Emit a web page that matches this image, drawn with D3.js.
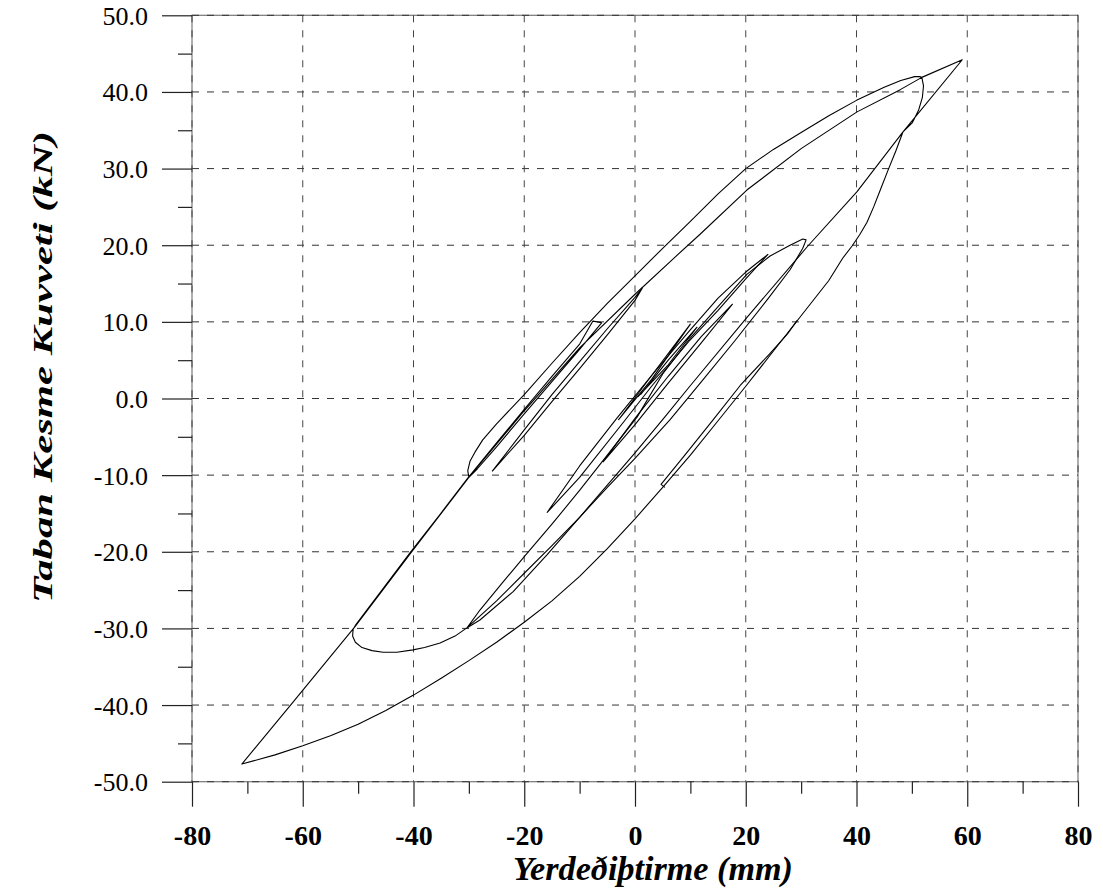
<!DOCTYPE html>
<html><head><meta charset="utf-8">
<script src="https://cdn.jsdelivr.net/npm/d3@7"></script>
<style>
body{margin:0;background:#fff}
svg text{font-family:"Liberation Serif","Times New Roman",Times,serif}
</style>
</head><body>
<svg id="chart" width="1103" height="896"></svg>
<script>
// ---- axis / label data ----
const xMajor = [-80,-60,-40,-20,0,20,40,60,80];
const xMinor = [-70,-50,-30,-10,10,30,50,70];
const yMajor = [-50,-40,-30,-20,-10,0,10,20,30,40,50];
const yMinor = [-45,-35,-25,-15,-5,5,15,25,35,45];
const xTitle = "Yerdeðiþtirme (mm)";
const yTitle = "Taban Kesme Kuvveti (kN)";

// ---- hysteresis branches: [displacement mm, base shear kN] ----
const bigCycle = [
 [-6.0,9.9],[-10,6.4],[-15,2.2],[-20,-2.0],[-25,-6.3],[-28.5,-9.2],[-30,-10.3],
 [-30.2,-9.4],[-29.8,-8.2],[-28.9,-7.0],[-27.5,-5.4],[-25,-3.3],[-20,0.5],[-15,4.6],[-10,8.6],[-5,12.4],[0,16.0],[5,19.6],[10,23.1],[15,26.7],[20,30.0],[25,32.5],[30,34.7],[35,36.9],[40,38.9],[45,40.6],[48,41.5],[50.5,42.0],[51.4,42.0],[51.8,41.9],
 [52.1,40.8],[51.9,39.3],[51.2,37.6],[50.1,36.0],[48.4,34.8],[47.1,32.3],[45.7,29.8],[44.4,27.4],[43.1,25.0],[41.9,23.0],[40.6,21.4],[39.2,19.9],[37.5,18.3],[35,15.4],[30,10.8],[25,6.2],[20,1.6],[15,-2.9],[10,-7.4],[5,-11.6],[0,-15.7],[-5,-19.6],[-10,-23.2],[-15,-26.4],[-20,-29.2],[-25,-31.8],[-30,-34.2],[-35,-36.5],[-40,-38.7],[-45,-40.7],[-50,-42.5],[-55,-44.0],[-60,-45.3],[-65,-46.5],[-71,-47.7],
 [-62.2,-40.0],[-50.6,-29.8],[-40.1,-19.8],[-29.8,-10.1],[-20,-1.6],[-10,6.6],[0,13.6],[6.7,18.1],[11.7,21.4],[20.2,27.2],[30,32.6],[40.1,37.4],[47.9,40.3],[51.8,41.9],[59.1,44.2],
 [48.4,34.8],[40.1,27.0],[31.1,19.8],[20,10.4],[9.9,1.6],[5.4,-2.4],[0,-7.1],[-10,-15.5],[-15.9,-20.4],[-22,-25.2],[-28,-28.9],[-30.3,-29.9],
 [-32.5,-31.0],[-35.2,-31.9],[-38,-32.5],[-40.1,-32.8],[-43,-33.1],[-45.5,-33.1],[-47.5,-32.9],[-49.3,-32.5],[-50.5,-31.8],[-51,-31.0],[-50.9,-30.1],[-50.4,-29.5],[-45.5,-24.8],[-40.6,-20.1],[-35.3,-15.2],[-30.2,-10.4],
 [-25,-5.8],[-20,-1.4],[-15,2.9],[-10,7.1],[-7.6,10.1],[-6.0,9.9]
];
const loopA = [ // (-25.8,-9.5) <-> (1.3,14.4)
 [-25.8,-9.5],[-20,-4.1],[-15,0.5],[-10,4.8],[-5,9.1],[0,13.2],[1.3,14.4],
 [0,12.8],[-5,8.3],[-10,3.9],[-15,-0.4],[-20,-4.8],[-25.8,-9.5]
];
const loopB = [ // (-15.9,-14.9) <-> (24,18.8)
 [-15.9,-14.9],[-10,-8.8],[-3.3,-2.6],[3,3.0],[9.9,8.9],[15,13.1],[20,16.5],[24,18.8],
 [20,15.6],[15,11.5],[9.9,7.6],[3,1.6],[-2.2,-3.2],[-10,-10.3],[-15.9,-14.9]
];
const loopC = [ // (4.7,-11.2) <-> (29.3,10.2)
 [5.4,-11.6],[4.7,-11.2],[9,-7.4],[14.1,-2.8],[19,1.7],[24.4,5.9],[27.5,8.4],[29.3,10.2]
];
const loopD = [ // (-30.3,-29.9) <-> (30.9,20.7)
 [-30.3,-29.9],[-28,-27.6],[-24,-24.1],[-19.5,-20.2],[-15,-16.4],[-9.9,-11.9],[-5,-7.4],[0.4,-2.4],[5,3.2],[9.9,7.8],[15,12.0],[20.2,16.2],[24.4,18.6],[28,20.0],[30.3,20.8],[30.9,20.7],
 [30.3,19.6],[28,16.8],[24,13.0],[18,7.5],[12,2.2],[6.3,-2.8],[0,-7.8],[-5,-11.6],[-10,-15.5],[-15,-19.2],[-20,-22.8],[-25,-26.4],[-30.3,-29.9]
];
const loopE = [ // small central cycles
 [-5.8,-8.3],[0,-2.6],[6,2.9],[12,8.1],[17.6,12.3],[12,7.3],[6,2.0],[0,-3.4],[-5.8,-8.3]
];
const loopF = [
 [-3,-2.8],[3,3.0],[10,9.7],[3,2.5],[-3,-2.8]
];
const loopG = [
 [1,0.5],[6,5.0],[11.2,9.3],[6,4.4],[0.5,0.2]
];
const branches = [bigCycle, loopA, loopB, loopC, loopD, loopE, loopF, loopG];

// ---- layout ----
const svg = d3.select("#chart");
svg.append("rect").attr("width",1103).attr("height",896).attr("fill","#fff");
const x = d3.scaleLinear().domain([-80,80]).range([192,1078]);
const y = d3.scaleLinear().domain([-50,50]).range([781.7,15.3]);
const serif = '"Liberation Serif","Times New Roman",Times,serif';

// frame
svg.append("rect").attr("x",x(-80)).attr("y",y(50))
  .attr("width",x(80)-x(-80)).attr("height",y(-50)-y(50))
  .attr("fill","none").attr("stroke","#777").attr("stroke-width",1.2);

// grid
const grid = svg.append("g");
grid.selectAll("line.h").data(yMajor).join("line")
  .attr("x1",x(-80)).attr("x2",x(80)).attr("y1",d=>y(d)).attr("y2",d=>y(d))
  .attr("stroke","#333").attr("stroke-width",1).attr("stroke-dasharray","7,8");
grid.selectAll("line.v").data(xMajor).join("line")
  .attr("y1",y(50)).attr("y2",y(-50)).attr("x1",d=>x(d)).attr("x2",d=>x(d))
  .attr("stroke","#444").attr("stroke-width",1).attr("stroke-dasharray","7,8");

// axes
function styleAxis(g){
  g.attr("font-family",null).attr("font-size",null);
  g.select(".domain").remove();
  g.selectAll(".tick line").attr("stroke","#222").attr("stroke-width",1.2);
}
const gxMin = svg.append("g").attr("transform",`translate(0,${y(-50)})`)
  .call(d3.axisBottom(x).tickValues(xMinor).tickSize(12).tickFormat(""));
styleAxis(gxMin);
const gx = svg.append("g").attr("transform",`translate(0,${y(-50)})`)
  .call(d3.axisBottom(x).tickValues(xMajor).tickSize(25).tickSizeOuter(0).tickFormat(d=>String(d)));
styleAxis(gx);
gx.selectAll(".tick text").attr("y",63).attr("dy",0)
  .style("font-family",serif).style("font-size","28px").style("font-weight","bold").attr("fill","#000");

const gyMin = svg.append("g").attr("transform",`translate(${x(-80)},0)`)
  .call(d3.axisLeft(y).tickValues(yMinor).tickSize(14).tickFormat(""));
styleAxis(gyMin);
const gy = svg.append("g").attr("transform",`translate(${x(-80)},0)`)
  .call(d3.axisLeft(y).tickValues(yMajor).tickSize(30).tickSizeOuter(0).tickFormat(d=>d.toFixed(1)));
styleAxis(gy);
gy.selectAll(".tick text").attr("x",-44).attr("dy",0).attr("y",9)
  .style("font-family",serif).style("font-size","26px").style("font-weight","normal").attr("fill","#000");

// curve
const line = d3.line().x(d=>x(d[0])).y(d=>y(d[1]));
svg.append("g").selectAll("path").data(branches).join("path")
  .attr("d",line).attr("fill","none").attr("stroke","#000")
  .attr("stroke-width",1.1).attr("stroke-linejoin","round");

// titles
svg.append("text").attr("x",653).attr("y",880).attr("text-anchor","middle")
  .style("font-family",serif).style("font-size","34px").style("font-weight","bold").style("font-style","italic")
  .attr("textLength",280).attr("lengthAdjust","spacingAndGlyphs").text(xTitle);
svg.append("text").attr("transform","translate(52,367) rotate(-90)").attr("text-anchor","middle")
  .style("font-family",serif).style("font-size","28px").style("font-weight","bold").style("font-style","italic")
  .attr("textLength",472).attr("lengthAdjust","spacingAndGlyphs").text(yTitle);
</script>
</body></html>
